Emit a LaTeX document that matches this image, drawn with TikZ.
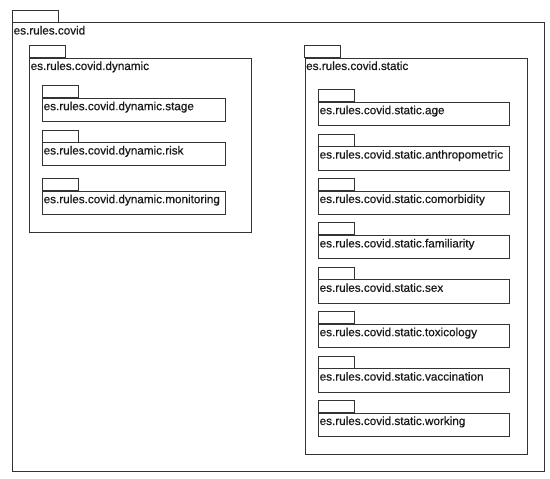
\documentclass[tikz,border=0pt]{standalone}
\usepackage{fontspec}
\setmainfont{Liberation Sans}
\newfontfamily\pkgfont{Liberation Sans}[BoldFont={Liberation Sans}, BoldFeatures={FakeBold=0.6}]
\usetikzlibrary{positioning}

\tikzset{
  pkg/.style={draw=black!80, line width=0.9pt, anchor=north west, inner sep=0pt},
  pkgname/.style={anchor=north west, inner xsep=1.5pt, inner ysep=3.8pt,
    font=\pkgfont\bfseries\fontsize{11.7}{13}\selectfont, text=black!90},
  pkgtab/.style={draw=black!80, line width=0.9pt},
}
\newcommand{\drawtab}[2]{\draw[pkgtab] (#1.north west) rectangle ++(#2,-12);}

\begin{document}
\begin{tikzpicture}[x=1pt, y=-1pt]
\useasboundingbox (0,0) rectangle (550,479);

% outer package
\node[pkg, minimum width=532pt, minimum height=449pt] (covid) at (12,22) {};
\node[pkgname] (covid-l) at (covid.north west) {es.rules.covid};
\drawtab{covid}{46}

% dynamic
\node[pkg, minimum width=222pt, minimum height=174pt] (dyn) at (29,57.5) {};
\node[pkgname] (dyn-l) at (dyn.north west) {es.rules.covid.dynamic};
\drawtab{dyn}{36}

    \foreach \name/\y [count=\k] in {stage/97.7, risk/142, monitoring/190.7} {
    \node[pkg, minimum width=183pt, minimum height=23pt] (dy-\k) at (42,\y) {};
    \node[pkgname] at (dy-\k.north west) {es.rules.covid.dynamic.\name};
    \drawtab{dy-\k}{36}
    }

% static
\node[pkg, minimum width=222.5pt, minimum height=396pt] (sta) at (304.5,57.5) {};
\node[pkgname] (sta-l) at (sta.north west) {es.rules.covid.static};
\drawtab{sta}{36}

    \foreach \name [count=\k] in {age, anthropometric, comorbidity, familiarity,
      sex, toxicology, vaccination, working} {
    \node[pkg, minimum width=191pt, minimum height=23.5pt] (st-\k) at (318,{101.7+44.4*(\k-1)}) {};
    \node[pkgname] at (st-\k.north west) {es.rules.covid.static.\name};
    \drawtab{st-\k}{36}
    }

\end{tikzpicture}
\end{document}
